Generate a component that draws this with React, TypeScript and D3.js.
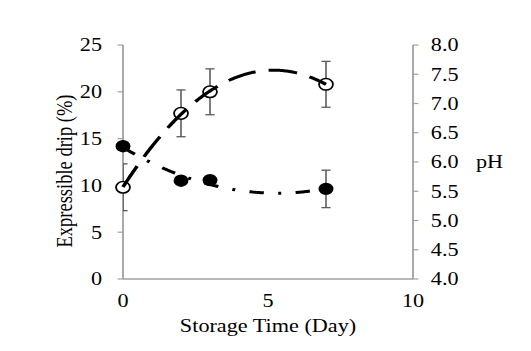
import React from "react";
import * as d3 from "d3";

// storage days
const days = [0, 2, 3, 7];
// expressible drip (%), left axis
const drip = [9.8, 17.7, 20.0, 20.8];
const dripErr = [2.5, 2.5, 2.45, 2.45];
// pH, right axis
const ph = [6.27, 5.68, 5.69, 5.54];
const phErr = [0.05, 0.05, 0.05, 0.32];

const xTicks = [0, 5, 10];
const leftTicks = [0, 5, 10, 15, 20, 25];
const rightTicks = [4.0, 4.5, 5.0, 5.5, 6.0, 6.5, 7.0, 7.5, 8.0];

// least squares quadratic, like the spreadsheet trendline
function quadFit(xs: number[], ys: number[]) {
  const s = (f: (x: number, y: number) => number) =>
    d3.sum(xs, (x, i) => f(x, ys[i]));
  const n = xs.length;
  const sx = s((x) => x), sx2 = s((x) => x * x), sx3 = s((x) => x ** 3), sx4 = s((x) => x ** 4);
  const sy = s((_, y) => y), sxy = s((x, y) => x * y), sx2y = s((x, y) => x * x * y);
  const m = [
    [n, sx, sx2, sy],
    [sx, sx2, sx3, sxy],
    [sx2, sx3, sx4, sx2y],
  ];
  for (let i = 0; i < 3; i++) {
    for (let k = i + 1; k < 3; k++) {
      const f = m[k][i] / m[i][i];
      for (let j = i; j < 4; j++) m[k][j] -= f * m[i][j];
    }
  }
  const c = m[2][3] / m[2][2];
  const b = (m[1][3] - m[1][2] * c) / m[1][1];
  const a = (m[0][3] - m[0][1] * b - m[0][2] * c) / m[0][0];
  return (x: number) => a + b * x + c * x * x;
}

const SX = 1.2; // picture is stretched sideways
const font = "'Liberation Serif', 'Times New Roman', serif";

export default function App() {
  const x = d3.scaleLinear().domain([0, 10]).range([123 / SX, 413 / SX]);
  const yL = d3.scaleLinear().domain([0, 25]).range([279, 45]);
  const yR = d3.scaleLinear().domain([4, 8]).range([279, 45]);

  const [x0, x1] = x.range();
  const axisColor = "#a0a0a0";

  const dripFn = quadFit(days, drip);
  const phFn = quadFit(days, ph);
  const tx = d3.range(0, 7.001, 0.05);
  const dripLine = d3.line<number>().x((d) => x(d)).y((d) => yL(dripFn(d)))(tx) || "";
  const phLine = d3.line<number>().x((d) => x(d)).y((d) => yR(phFn(d)))(tx) || "";

  const cap = 3.8;

  return (
    <svg
      width={531}
      height={351}
      style={{ position: "absolute", left: 0, top: 0, background: "#fff" }}
    >
      <defs>
        <clipPath id="plot">
          <rect x={x0} y={45} width={x1 - x0} height={279 - 45} />
        </clipPath>
      </defs>
      <g transform={`scale(${SX},1)`} fontFamily={font} fontSize={18.5} fill="#000">
        {/* axes */}
        <line x1={x0} x2={x0} y1={45} y2={279} stroke={axisColor} strokeWidth={1.5} />
        <line x1={x1} x2={x1} y1={45} y2={279} stroke={axisColor} strokeWidth={1.5} />
        <line x1={x0} x2={x1} y1={279} y2={279} stroke={axisColor} strokeWidth={1.5} />
        {leftTicks.map((t) => (
          <g key={"l" + t}>
            <line x1={x0 - 4.5} x2={x0} y1={yL(t)} y2={yL(t)} stroke={axisColor} strokeWidth={1.2} />
            <text x={85} y={yL(t)} textAnchor="end" dominantBaseline="central">
              {t}
            </text>
          </g>
        ))}
        {rightTicks.map((t) => (
          <g key={"r" + t}>
            <line x1={x1} x2={x1 + 4.5} y1={yR(t)} y2={yR(t)} stroke={axisColor} strokeWidth={1.2} />
            <text x={359} y={yR(t)} dominantBaseline="central">
              {t.toFixed(1)}
            </text>
          </g>
        ))}
        {xTicks.map((t) => (
          <text key={"x" + t} x={x(t)} y={307} textAnchor="middle">
            {t}
          </text>
        ))}

        {/* error bars */}
        <g clipPath="url(#plot)" stroke="#595959" strokeWidth={1.3}>
          {days.map((d, i) => (
            <g key={"ed" + i}>
              <line x1={x(d)} x2={x(d)} y1={yL(drip[i] - dripErr[i])} y2={yL(drip[i] + dripErr[i])} />
              <line x1={x(d) - cap} x2={x(d) + cap} y1={yL(drip[i] - dripErr[i])} y2={yL(drip[i] - dripErr[i])} />
              <line x1={x(d) - cap} x2={x(d) + cap} y1={yL(drip[i] + dripErr[i])} y2={yL(drip[i] + dripErr[i])} />
            </g>
          ))}
          {days.map((d, i) => (
            <g key={"ep" + i}>
              <line x1={x(d)} x2={x(d)} y1={yR(ph[i] - phErr[i])} y2={yR(ph[i] + phErr[i])} />
              <line x1={x(d) - cap} x2={x(d) + cap} y1={yR(ph[i] - phErr[i])} y2={yR(ph[i] - phErr[i])} />
              <line x1={x(d) - cap} x2={x(d) + cap} y1={yR(ph[i] + phErr[i])} y2={yR(ph[i] + phErr[i])} />
            </g>
          ))}
        </g>

        {/* markers */}
        {days.map((d, i) => (
          <circle key={"md" + i} cx={x(d)} cy={yL(drip[i])} r={5.8} fill="#fff" stroke="#000" strokeWidth={1.5} />
        ))}
        {days.map((d, i) => (
          <circle key={"mp" + i} cx={x(d)} cy={yR(ph[i])} r={6.2} fill="#000" />
        ))}

        {/* trendlines */}
        <path d={dripLine} fill="none" stroke="#000" strokeWidth={3} strokeDasharray="24,11" />
        <path d={phLine} fill="none" stroke="#000" strokeWidth={3} strokeDasharray="12,12,2.5,12" />

        {/* titles */}
        <text x={268 / SX} y={332} textAnchor="middle">
          Storage Time (Day)
        </text>
        <text x={476 / SX} y={162} dominantBaseline="central">
          pH
        </text>
        <text transform={`translate(${72 / SX},171) rotate(-90)`} textAnchor="middle">
          Expressible drip (%)
        </text>
      </g>
    </svg>
  );
}
